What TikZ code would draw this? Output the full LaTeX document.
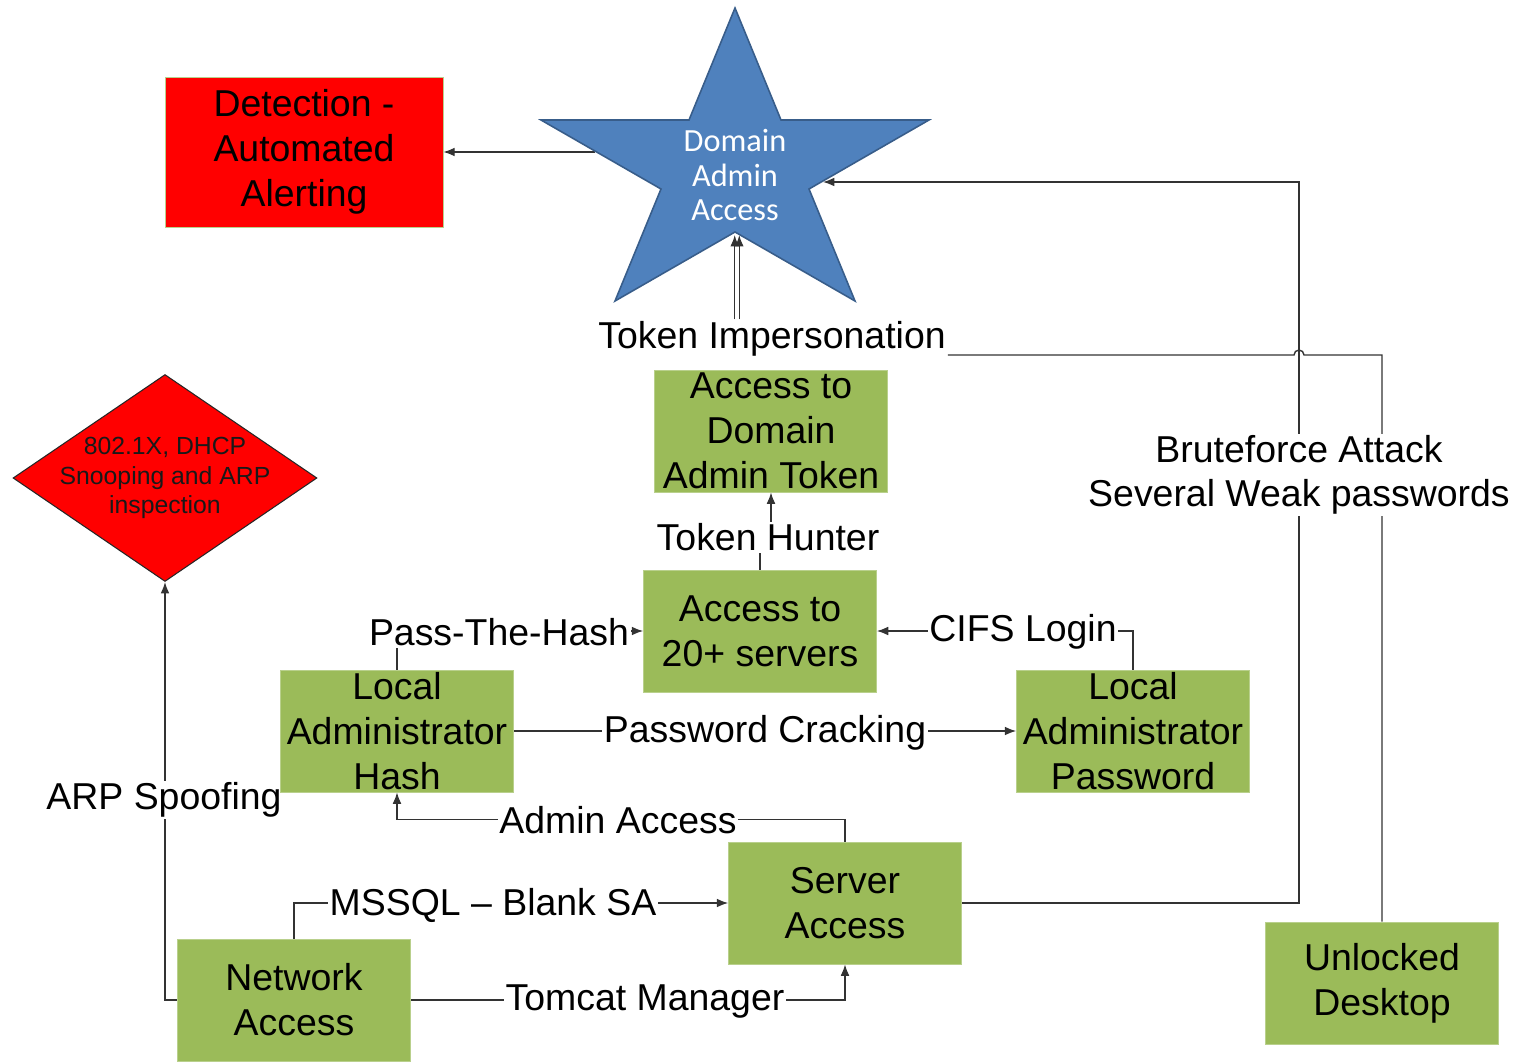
\documentclass[tikz,border=0pt]{standalone}
\usepackage{fontspec}
\setmainfont{Liberation Sans}
\newfontfamily\starfont{Carlito}
\usepackage{tikz}
\usetikzlibrary{shapes.geometric,arrows.meta,positioning,backgrounds}
\definecolor{stepgreen}{HTML}{9BBB59}
\definecolor{stepedge}{HTML}{B9D08C}
\definecolor{starblue}{HTML}{4F81BD}
\definecolor{staredge}{HTML}{385D8A}
\tikzset{step-box/.style={draw=stepedge,fill=stepgreen,minimum width=4.66cm,minimum height=2.44cm,inner sep=0pt,align=center,font=\fontsize{21.3}{25.5}\selectfont}}
\tikzset{alert-box/.style={step-box,fill=red,minimum width=5.56cm,minimum height=3cm}}
\tikzset{guard-diamond/.style={diamond,draw=black!85,fill=red,line width=0.6pt,minimum width=6.08cm,minimum height=4.14cm,inner sep=0pt}}
\tikzset{guard-text/.style={align=center,text=black!90,font=\fontsize{14.1}{17}\selectfont}}
\tikzset{domain-star/.style={draw=staredge,fill=starblue,line width=0.9pt}}
\tikzset{star-text/.style={align=center,text=white,font=\starfont\fontsize{18.4}{19.8}\selectfont}}
\tikzset{edge-label/.style={fill=white,inner sep=1pt,align=center,font=\fontsize{21.3}{25}\selectfont}}
\tikzset{wire/.style={draw=black!80,line width=0.8pt}}
\tikzset{>={Latex[length=6.5pt,width=5pt]}}

\begin{document}
\begin{tikzpicture}[x=0.02cm,y=-0.02cm]
    \useasboundingbox (0,0) rectangle (1515,1064);

    \node [edge-label] (tokimp) at (772,339) {Token Impersonation};
    \node [edge-label] (tokhunt) at (768,537) {Token Hunter};
    \node [edge-label] (pth) at (499,632) {Pass-The-Hash};
    \node [edge-label] (cifs) at (1023,632) {CIFS Login};
    \node [edge-label] (pwcrack) at (765,733) {Password Cracking};
    \node [edge-label] (adminacc) at (618,820) {Admin Access};
    \node [edge-label] (mssql) at (493,905) {MSSQL – Blank SA};
    \node [edge-label] (tomcat) at (645,1002) {Tomcat Manager};
    \node [edge-label] (arpspoof) at (164,800) {ARP Spoofing};
    \node [edge-label] (brute) at (1299,475) {Bruteforce Attack\\Several Weak passwords};

    \node [alert-box] (detection) at (304,152) {Detection -\\Automated\\Alerting};
    \node [step-box] (accesstoken) at (771,431) {Access to\\Domain\\Admin Token};
    \node [step-box] (servers20) at (760,631) {Access to\\20+ servers};
    \node [step-box] (lahash) at (397,731) {Local\\Administrator\\Hash};
    \node [step-box] (lapass) at (1133,731) {Local\\Administrator\\Password};
    \node [step-box] (serveracc) at (845,903) {Server\\Access};
    \node [step-box] (netacc) at (294,1000) {Network\\Access};
    \node [step-box] (unlocked) at (1382,983) {Unlocked\\Desktop};
    \node [guard-diamond, label={[guard-text]center:{802.1X, DHCP\\Snooping and ARP\\inspection}}] (arp-guard) at (165,478) {};

    \draw [domain-star] (735,8) -- (781,120) -- (929,120) -- (809,189) -- (855,301)
        -- (735,232) -- (615,301) -- (661,189) -- (541,120) -- (689,120) -- cycle;
    \node [star-text] (domain) at (735,175) {Domain\\Admin\\Access};
    \coordinate (domain-left) at (595,152);
    \coordinate (domain-right) at (823,182);
    \coordinate (domain-bottom) at (737,235);
    \coordinate (tok-up) at (domain-bottom |- tokimp.north);
    \coordinate (hop) at (1304,355);

    \begin{scope}[on background layer]
        \draw [wire,->] (domain-left) -- (detection);
        \draw [wire,->] ([xshift=-1.3pt]tok-up) -- ([xshift=-1.3pt]domain-bottom);
        \draw [wire,->] ([xshift=1.3pt]tok-up) -- ([xshift=1.3pt]domain-bottom);
        \draw [wire] (unlocked.north) |- (hop) arc[start angle=0,end angle=-180,radius=5] -- (tokimp.east |- hop);
        \draw [wire,->] (servers20.north) -- ++(0,-30) -| (accesstoken.south);
        \draw [wire,->] (lahash.north) |- (servers20.west);
        \draw [wire,->] (lapass.north) |- (servers20.east);
        \draw [wire,->] (lahash.east) -- (lapass.west);
        \draw [wire,->] (serveracc.north) -- ++(0,-22) -| (lahash.south);
        \draw [wire,->] (netacc.north) |- (serveracc.west);
        \draw [wire,->] (netacc.east) -| (serveracc.south);
        \draw [wire,->] (netacc.west) -| (arp-guard.south);
        \draw [wire,->] (serveracc.east) -| (domain-right -| brute) -- (domain-right);
    \end{scope}
\end{tikzpicture}
\end{document}
